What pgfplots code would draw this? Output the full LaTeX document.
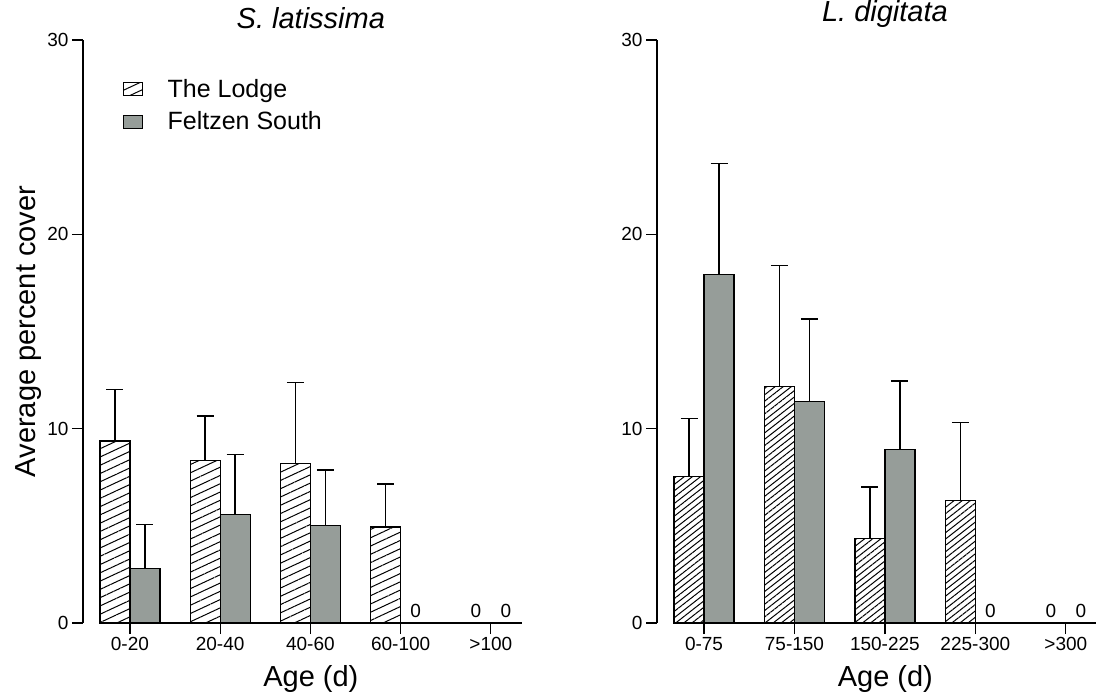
\documentclass[border=0pt]{standalone}
\usepackage{pgfplots}
\pgfplotsset{compat=1.18}
\usepackage{fontspec}
\setmainfont{Liberation Sans}
\usetikzlibrary{patterns.meta}
\definecolor{fgray}{RGB}{150,157,153}

\pgfplotsset{
  kelp/.style={
    scale only axis,
    height=583pt,
    ymin=0, ymax=30,
    xmin=-0.52, xmax=4.345,
    clip=false,
    axis y line=left,
    axis x line=bottom,
    axis line style={-, line width=1.2pt},
    x axis line style={draw=none},
    ytick={0,10,20,30},
    xtick={0,1,2,3,4},
    tick align=outside,
    tick style={line width=1.2pt, black},
    major tick length=11pt,
    tick label style={font=\fontsize{19}{22}\selectfont},
    /pgf/number format/assume math mode=true,
    ybar, bar width=30pt,
    legend image code/.code={\draw[#1, line width=1pt] (0pt,-6.5pt) rectangle (19pt,6.5pt); \path[draw=none, pattern=none, fill=none] (0pt,0pt) -- (43pt,0pt);},
    title style={font=\fontsize{29}{34}\selectfont\itshape, anchor=base},
    xlabel style={font=\fontsize{29}{34}\selectfont, anchor=base, at={(axis description cs:0.519,0)}, yshift=-63pt},
    ylabel style={font=\fontsize{29}{34}\selectfont},
  },
  ebar/.style={
    error bars/y dir=plus, error bars/y explicit,
    error bars/error bar style={line width=1.4pt, draw=black, solid},
    error bars/error mark options={rotate=90, mark size=8.5pt, line width=1.4pt, draw=black, solid},
  },
  lodge/.style 2 args={draw=black, line width=1.2pt, bar shift=-15pt, ebar,
    pattern={Lines[angle=#1, distance=#2, line width=1pt]}},
  felt/.style={draw=black, line width=1.2pt, bar shift=15pt, fill=fgray, ebar},
  zero/.style={draw=none, fill=none, bar shift=#1, nodes near coords={0},
    every node near coord/.append style={font=\fontsize{19}{22}\selectfont, anchor=south, inner sep=0pt, yshift=5pt}},
}

\begin{document}
\begin{tikzpicture}
\useasboundingbox (0,0) rectangle (1096pt,694pt);

% ---------------- Left panel ----------------
\begin{axis}[kelp,
  at={(83pt,71pt)}, anchor=south west, width=439pt,
  xticklabels={0-20,20-40,40-60,60-100,>100},
  title={S. latissima}, title style={at={(axis description cs:0.519,1)}, yshift=5pt},
  xlabel={Age (d)},
  ylabel={Average percent cover},
  ylabel style={anchor=base, rotate=0, at={(axis description cs:-0.109,0.5)}},
  legend style={draw=none, fill=none, inner sep=0pt, at={(axis description cs:0.091,0.935)}, anchor=north west,
    font=\fontsize{25}{29}\selectfont, row sep=11pt, cells={anchor=west}, nodes={inner sep=1pt}},
  legend cell align=left,
]
\addplot[lodge={25}{7.5pt}] coordinates {(0,9.37) +- (0,2.63) (1,8.37) +- (0,2.28) (2,8.20) +- (0,4.17) (3,4.94) +- (0,2.21)};
\addplot[felt] coordinates {(0,2.80) +- (0,2.26) (1,5.57) +- (0,3.09) (2,5.03) +- (0,2.84)};
\addplot[zero=-15pt, forget plot] coordinates {(4,0)};
\addplot[zero=15pt, forget plot] coordinates {(3,0) (4,0)};
\draw[line width=1.2pt] (axis cs:-0.333,0) -- (axis cs:4.345,0);
\legend{The Lodge, Feltzen South}
\end{axis}

% ---------------- Right panel ----------------
\begin{axis}[kelp,
  at={(657pt,71pt)}, anchor=south west, width=440pt,
  xticklabels={0-75,75-150,150-225,225-300,>300},
  title={L. digitata}, title style={at={(axis description cs:0.518,1)}, yshift=12pt},
  xlabel={Age (d)},
]
\addplot[lodge={38}{5pt}] coordinates {(0,7.52) +- (0,3.00) (1,12.17) +- (0,6.23) (2,4.35) +- (0,2.64) (3,6.29) +- (0,4.03)};
\addplot[felt] coordinates {(0,17.93) +- (0,5.72) (1,11.41) +- (0,4.24) (2,8.91) +- (0,3.55)};
\addplot[zero=-15pt] coordinates {(4,0)};
\addplot[zero=15pt] coordinates {(3,0) (4,0)};
\draw[line width=1.2pt] (axis cs:-0.333,0) -- (axis cs:4.345,0);
\end{axis}
\end{tikzpicture}
\end{document}
